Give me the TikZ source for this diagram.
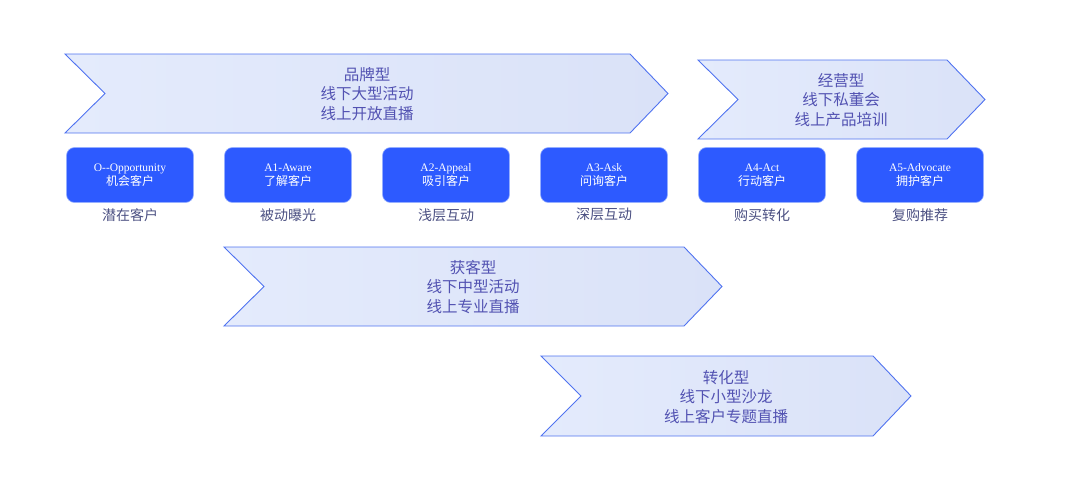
\documentclass[tikz,border=0pt]{standalone}
\usepackage{fontspec}
\setmainfont{Liberation Serif}
\newfontfamily\cjk{Noto Sans CJK SC}
\usetikzlibrary{positioning}
\definecolor{chevfillL}{RGB}{228,235,252}
\definecolor{chevfillR}{RGB}{218,226,248}
\definecolor{chevline}{RGB}{80,115,240}
\definecolor{chevtext}{RGB}{82,82,178}
\definecolor{stagefill}{RGB}{45,90,255}
\definecolor{stageline}{RGB}{150,175,255}
\definecolor{labeltext}{RGB}{75,80,130}
\tikzset{
  chevron/.style={draw=chevline, line width=0.9pt, left color=chevfillL, right color=chevfillR},
  chevlabel/.style={text=chevtext, align=center, font=\cjk\fontsize{15.5}{19.3}\selectfont},
  stagebox/.style={draw=stageline, line width=0.6pt, fill=stagefill, rounded corners=8pt,
    minimum width=127pt, minimum height=55pt, text=white, align=center,
    font=\fontsize{11.5}{14}\selectfont},
  stagenote/.style={text=labeltext, font=\cjk\fontsize{14}{16}\selectfont},
}
% chevron: left x, right x, top y, bottom y
\newcommand{\chevpath}[4]{%
  (#1,#3) -- (#2-38,#3) -- (#2,#3/2+#4/2) -- (#2-38,#4) -- (#1,#4) -- (#1+40,#3/2+#4/2) -- cycle}
\begin{document}
\begin{tikzpicture}[x=1pt, y=-1pt]
  \useasboundingbox (0,0) rectangle (1080,499);
  % stage chevrons
  \path[chevron] \chevpath{65}{668}{54}{133};
  \node[chevlabel] (brand) at (367,94) {品牌型\\线下大型活动\\线上开放直播};
  \path[chevron] \chevpath{698}{985}{60}{139};
  \node[chevlabel] (manage) at (841,100) {经营型\\线下私董会\\线上产品培训};
  \path[chevron] \chevpath{224}{722}{247}{326};
  \node[chevlabel] (acquire) at (473,287) {获客型\\线下中型活动\\线上专业直播};
  \path[chevron] \chevpath{541}{911}{356}{436};
  \node[chevlabel] (convert) at (726,397) {转化型\\线下小型沙龙\\线上客户专题直播};
  % customer stages
  \node[stagebox] (o)  at (130,175) {O-{}-Opportunity\\{\cjk\fontsize{12}{14}\selectfont 机会客户}};
  \node[stagebox] (a1) at (288,175) {A1-Aware\\{\cjk\fontsize{12}{14}\selectfont 了解客户}};
  \node[stagebox] (a2) at (446,175) {A2-Appeal\\{\cjk\fontsize{12}{14}\selectfont 吸引客户}};
  \node[stagebox] (a3) at (604,175) {A3-Ask\\{\cjk\fontsize{12}{14}\selectfont 问询客户}};
  \node[stagebox] (a4) at (762,175) {A4-Act\\{\cjk\fontsize{12}{14}\selectfont 行动客户}};
  \node[stagebox] (a5) at (920,175) {A5-Advocate\\{\cjk\fontsize{12}{14}\selectfont 拥护客户}};
  \node[stagenote, below=2pt of o]  (o note)  {潜在客户};
  \node[stagenote, below=2pt of a1] (a1 note) {被动曝光};
  \node[stagenote, below=2pt of a2] (a2 note) {浅层互动};
  \node[stagenote, below=2pt of a3] (a3 note) {深层互动};
  \node[stagenote, below=2pt of a4] (a4 note) {购买转化};
  \node[stagenote, below=2pt of a5] (a5 note) {复购推荐};
\end{tikzpicture}
\end{document}
